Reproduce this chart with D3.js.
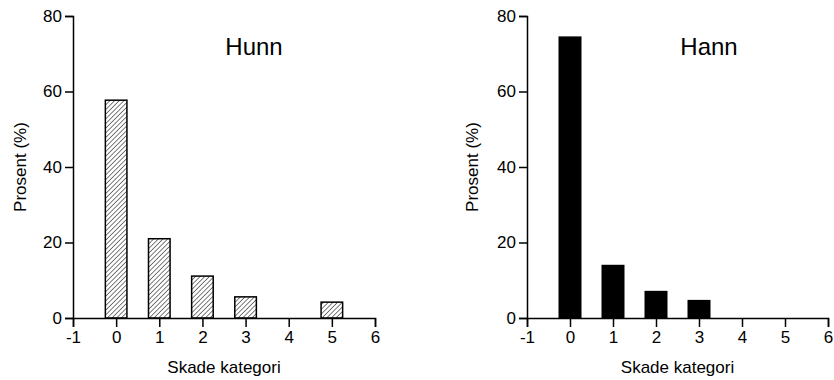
<!DOCTYPE html>
<html><head><meta charset="utf-8">
<script src="https://cdn.jsdelivr.net/npm/d3@7"></script>
<style>
html,body{margin:0;padding:0;background:#fff;}
svg{display:block;font-family:"Liberation Sans",Arial,sans-serif;}
</style></head>
<body>
<svg id="chart" width="834" height="380"></svg>
<script>
const categories = [0, 1, 2, 3, 4, 5];
const hunnValues = [57.7, 21.0, 11.1, 5.6, 0, 4.2];
const hannValues = [74.4, 13.9, 7.0, 4.6, 0, 0];
const xTicks = [-1, 0, 1, 2, 3, 4, 5, 6];
const yTicks = [0, 20, 40, 60, 80];
const panelTitles = ["Hunn", "Hann"];
const xLabel = "Skade kategori";
const yLabel = "Prosent (%)";

const svg = d3.select("#chart");
const defs = svg.append("defs");
const ps = 3.3;
const pat = defs.append("pattern").attr("id","hatch").attr("patternUnits","userSpaceOnUse")
  .attr("width",ps).attr("height",ps).attr("patternTransform","rotate(45)");
pat.append("rect").attr("width",ps).attr("height",ps).attr("fill","#fff");
pat.append("line").attr("x1",0).attr("y1",0).attr("x2",0).attr("y2",ps)
  .attr("stroke","#111").attr("stroke-width",1.1);

const panels = [
  {values: hunnValues, title: panelTitles[0], x0: 73, x1: 375, fill: "url(#hatch)", titleX: 254, yLabX: 20},
  {values: hannValues, title: panelTitles[1], x0: 527, x1: 828, fill: "#000", titleX: 709, yLabX: 472}
];
const yTop = 16, yBot = 318;

panels.forEach(p => {
  const x = d3.scaleLinear().domain([-1, 6]).range([p.x0, p.x1]);
  const y = d3.scaleLinear().domain([0, 80]).range([yBot, yTop]);
  const g = svg.append("g");
  const bw = x(0.25) - x(-0.25);

  g.selectAll("rect.bar").data(categories).enter().append("rect")
    .attr("class","bar")
    .attr("x", d => x(d) - bw/2)
    .attr("y", (d,i) => y(p.values[i]))
    .attr("width", bw)
    .attr("height", (d,i) => y(0) - y(p.values[i]))
    .attr("fill", p.fill)
    .attr("stroke", "#000").attr("stroke-width", 1.5);

  const xa = g.append("g").attr("transform", `translate(0,${yBot})`)
    .call(d3.axisBottom(x).tickValues(xTicks).tickFormat(d3.format("d")).tickSizeOuter(0).tickSize(9).tickPadding(4));
  const ya = g.append("g").attr("transform", `translate(${p.x0},0)`)
    .call(d3.axisLeft(y).tickValues(yTicks).tickSizeOuter(0).tickSize(8).tickPadding(3));
  [xa, ya].forEach(a => {
    a.select(".domain").attr("stroke","#000").attr("stroke-width",1.5);
    a.selectAll(".tick line").attr("stroke","#000").attr("stroke-width",1.5);
    a.selectAll(".tick text").attr("fill","#000").style("font-size","17px").style("font-family",'"Liberation Sans",Arial,sans-serif');
  });
  xa.selectAll(".tick text").text(d => d < 0 ? "-" + Math.abs(d) : d);

  g.append("text").attr("x", p.titleX).attr("y", 55).attr("text-anchor","middle")
    .style("font-size","24px").attr("fill","#000").text(p.title);
  g.append("text").attr("x", (p.x0 + p.x1)/2).attr("y", 373).attr("text-anchor","middle")
    .style("font-size","17px").attr("fill","#000").text(xLabel);
  g.append("text").attr("transform", `translate(${p.yLabX + 6},${(yTop + yBot)/2}) rotate(-90)`)
    .attr("text-anchor","middle").style("font-size","17px").attr("fill","#000").text(yLabel);
});
</script>
</body></html>
